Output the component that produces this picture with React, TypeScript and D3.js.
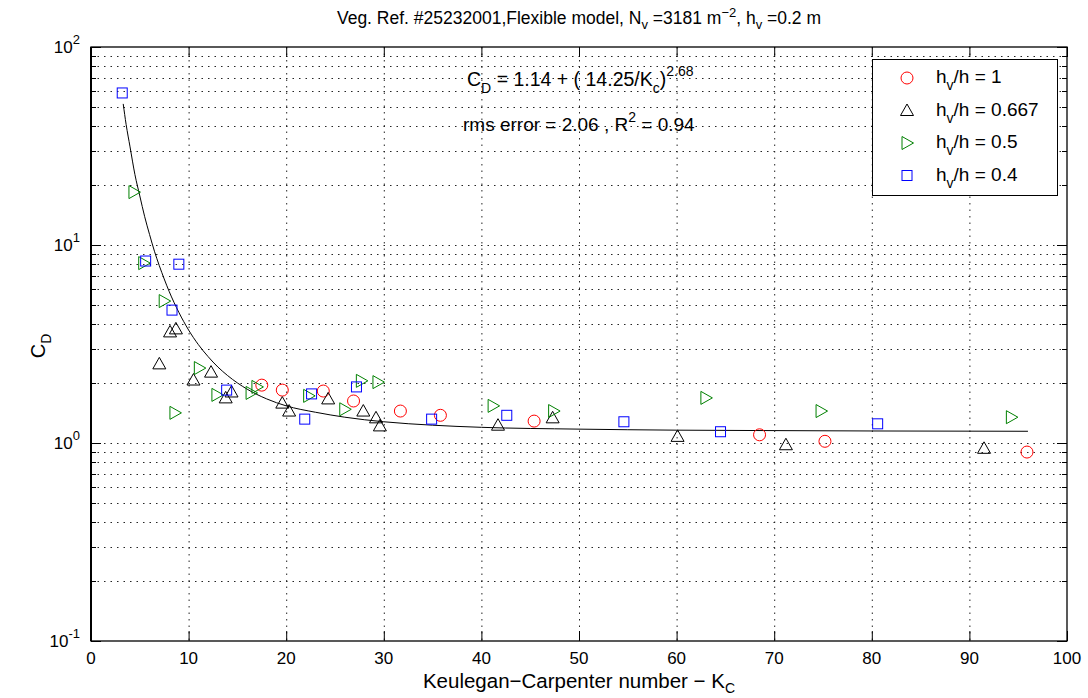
import * as d3 from 'd3'

// hv/h = 1
const circleKc = [17.5, 19.6, 23.8, 26.9, 31.7, 35.8, 45.4, 68.5, 75.2, 95.9]
const circleCd = [1.96, 1.85, 1.83, 1.63, 1.45, 1.38, 1.29, 1.10, 1.02, 0.90]
// hv/h = 0.667
const triKc = [7.0, 8.1, 8.7, 10.5, 12.3, 13.8, 14.4, 19.6, 20.3, 24.3, 27.9, 29.2, 29.6, 41.7, 47.3, 60.1, 71.2, 91.5]
const triCd = [2.51, 3.64, 3.77, 2.08, 2.28, 1.69, 1.81, 1.59, 1.45, 1.67, 1.45, 1.34, 1.22, 1.23, 1.34, 1.08, 0.98, 0.94]
// hv/h = 0.5
const rtriKc = [4.4, 5.4, 7.5, 8.6, 11.1, 12.9, 16.4, 17.0, 22.3, 26.0, 27.7, 29.4, 41.2, 47.4, 63.0, 74.8, 94.3]
const rtriCd = [18.5, 8.1, 5.21, 1.42, 2.39, 1.75, 1.79, 1.92, 1.73, 1.48, 2.06, 2.03, 1.54, 1.45, 1.69, 1.45, 1.35]
// hv/h = 0.4
const sqKc = [3.2, 5.6, 9.0, 8.3, 13.9, 21.9, 22.6, 27.2, 34.9, 42.6, 54.6, 64.5, 80.6]
const sqCd = [58.6, 8.3, 8.0, 4.69, 1.85, 1.32, 1.77, 1.92, 1.32, 1.38, 1.28, 1.14, 1.25]

// fitted curve
const fitKc = [3.3, 3.6, 4, 4.5, 5, 5.5, 6, 6.5, 7, 7.5, 8, 9, 10, 11, 12, 13, 14, 16, 18, 20, 23, 26, 30, 35, 40, 50, 60, 70, 80, 96]
const fitCd = [51.6, 40.6, 31.3, 22.7, 17.7, 13.9, 11.3, 9.3, 7.86, 6.74, 5.84, 4.57, 3.72, 3.14, 2.73, 2.42, 2.19, 1.87, 1.67, 1.54, 1.43, 1.35, 1.28, 1.23, 1.20, 1.175, 1.161, 1.155, 1.150, 1.146]

const xTicks = [0, 10, 20, 30, 40, 50, 60, 70, 80, 90, 100]
const yDecades = [0.1, 1, 10, 100]
const yExponents = ['-1', '0', '1', '2']
const legendLabels = ['1', '0.667', '0.5', '0.4']

const W = 1088
const H = 698
const left = 91, right = 1067, top = 47, bottom = 641
const font = 'Liberation Sans, Arial, Helvetica, sans-serif'

const x = d3.scaleLinear().domain([0, 100]).range([left, right])
const y = d3.scaleLog().domain([0.1, 100]).range([bottom, top])

const minors: number[] = []
yDecades.slice(0, 3).forEach(d => {
  for (let k = 2; k <= 9; k++) minors.push(d * k)
})

const upTri = 'M0,-6.5L6.5,5L-6.5,5Z'
const rightTri = 'M-5,-6.5L6.5,0L-5,6.5Z'

function Circle({ cx, cy }: { cx: number, cy: number }) {
  return <circle cx={cx} cy={cy} r={6} fill="none" stroke="#ff0000" strokeWidth={1} />
}
function Tri({ cx, cy }: { cx: number, cy: number }) {
  return <path d={upTri} transform={`translate(${cx},${cy})`} fill="none" stroke="#000" strokeWidth={1} />
}
function RTri({ cx, cy }: { cx: number, cy: number }) {
  return <path d={rightTri} transform={`translate(${cx},${cy})`} fill="none" stroke="#008000" strokeWidth={1} />
}
function Sq({ cx, cy }: { cx: number, cy: number }) {
  return <rect x={cx - 5} y={cy - 5} width={10} height={10} fill="none" stroke="#0000ff" strokeWidth={1} />
}

export default function App() {
  const line = d3.line<number>()
    .x((d, i) => x(fitKc[i]))
    .y(d => y(d))
    .curve(d3.curveMonotoneX)

  const gridDash = '1.5,5'
  const markers = [Circle, Tri, RTri, Sq]

  return (
    <svg width={W} height={H} style={{ position: 'absolute', left: 0, top: 0, background: '#fff' }}
      fontFamily={font}>
      <rect x={0} y={0} width={W} height={H} fill="#fff" />
      {/* grid */}
      <g stroke="#000" strokeWidth={1} strokeDasharray={gridDash} opacity={0.85}>
        {xTicks.slice(1, -1).map(t => (
          <line key={'gx' + t} x1={x(t) + 0.5} x2={x(t) + 0.5} y1={top} y2={bottom} />
        ))}
        {[...minors, 1, 10].map(t => (
          <line key={'gy' + t} x1={left} x2={right} y1={Math.round(y(t)) + 0.5} y2={Math.round(y(t)) + 0.5} />
        ))}
      </g>
      {/* ticks */}
      <g stroke="#000" strokeWidth={1}>
        {xTicks.map(t => (
          <g key={'tx' + t}>
            <line x1={x(t) + 0.5} x2={x(t) + 0.5} y1={bottom} y2={bottom - 10} />
            <line x1={x(t) + 0.5} x2={x(t) + 0.5} y1={top} y2={top + 10} />
          </g>
        ))}
        {yDecades.map(t => (
          <g key={'ty' + t}>
            <line x1={left} x2={left + 10} y1={Math.round(y(t)) + 0.5} y2={Math.round(y(t)) + 0.5} />
            <line x1={right} x2={right - 10} y1={Math.round(y(t)) + 0.5} y2={Math.round(y(t)) + 0.5} />
          </g>
        ))}
        {minors.map(t => (
          <g key={'tm' + t}>
            <line x1={left} x2={left + 5} y1={Math.round(y(t)) + 0.5} y2={Math.round(y(t)) + 0.5} />
            <line x1={right} x2={right - 5} y1={Math.round(y(t)) + 0.5} y2={Math.round(y(t)) + 0.5} />
          </g>
        ))}
      </g>
      {/* fitted curve */}
      <path d={line(fitCd) ?? ''} fill="none" stroke="#000" strokeWidth={1} />
      {/* data */}
      {circleKc.map((k, i) => <Circle key={'c' + i} cx={x(k)} cy={y(circleCd[i])} />)}
      {triKc.map((k, i) => <Tri key={'t' + i} cx={x(k)} cy={y(triCd[i])} />)}
      {rtriKc.map((k, i) => <RTri key={'r' + i} cx={x(k)} cy={y(rtriCd[i])} />)}
      {sqKc.map((k, i) => <Sq key={'s' + i} cx={x(k)} cy={y(sqCd[i])} />)}
      {/* axes box */}
      <rect x={left} y={top} width={right - left} height={bottom - top} fill="none" stroke="#000" strokeWidth={1.3} />
      <line x1={left} x2={left} y1={top} y2={bottom} stroke="#000" strokeWidth={2} />
      {/* tick labels */}
      <g fontSize={17} fill="#000">
        {xTicks.map(t => (
          <text key={'lx' + t} x={x(t)} y={bottom + 23} textAnchor="middle">{t}</text>
        ))}
        {yDecades.map((t, i) => (
          <text key={'ly' + t} x={left - 11} y={y(t) + 6} textAnchor="end">
            10<tspan dy={-9} fontSize={13}>{yExponents[i]}</tspan>
          </text>
        ))}
      </g>
      {/* axis labels */}
      <text x={(left + right) / 2} y={688} textAnchor="middle" fontSize={20.5}>
        Keulegan−Carpenter number − K<tspan dy={5} fontSize={14}>C</tspan>
      </text>
      <g transform="translate(45,346) rotate(-90)">
        <text textAnchor="middle" fontSize={20}>C<tspan dy={6} fontSize={14}>D</tspan></text>
      </g>
      {/* title */}
      <text x={(left + right) / 2} y={24} textAnchor="middle" fontSize={17.5}>
        Veg. Ref. #25232001,Flexible model, N<tspan dy={5} fontSize={13}>v</tspan>
        <tspan dy={-5}> =3181 m</tspan><tspan dy={-7} fontSize={13}>−2</tspan>
        <tspan dy={7}>, h</tspan><tspan dy={5} fontSize={13}>v</tspan><tspan dy={-5}> =0.2 m</tspan>
      </text>
      {/* fit annotation */}
      <text x={467} y={86} fontSize={19.5}>
        C<tspan dy={7} fontSize={14}>D</tspan><tspan dy={-7}> = 1.14 + ( 14.25/K</tspan>
        <tspan dy={7} fontSize={14}>c</tspan><tspan dy={-7}>)</tspan>
        <tspan dy={-10} fontSize={14}>2.68</tspan>
      </text>
      <text x={463} y={131} fontSize={19}>
        rms error = 2.06 , R<tspan dy={-9} fontSize={14}>2</tspan><tspan dy={9}> = 0.94</tspan>
      </text>
      {/* legend */}
      <g>
        <rect x={872.5} y={59.5} width={185} height={136} fill="#fff" stroke="#000" strokeWidth={1} />
        {legendLabels.map((lab, i) => {
          const M = markers[i]
          const ly = 78 + i * 32.5
          return (
            <g key={'lg' + i}>
              <M cx={907} cy={ly} />
              <text x={936} y={ly + 5} fontSize={19}>
                h<tspan dy={7} fontSize={14}>v</tspan><tspan dy={-7}>/h = {lab}</tspan>
              </text>
            </g>
          )
        })}
      </g>
    </svg>
  )
}
